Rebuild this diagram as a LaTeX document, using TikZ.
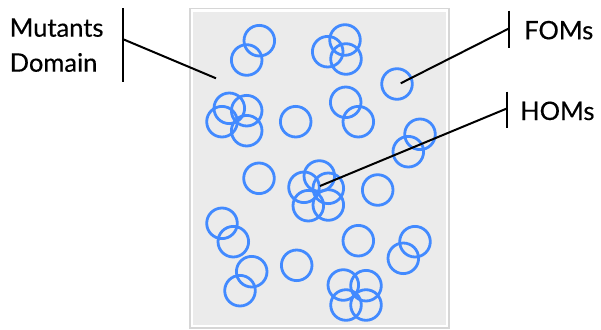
\documentclass[tikz,border=0pt]{standalone}
\usepackage{fontspec}
\setmainfont{Lato}
\newfontfamily\lblfont{Lato}[FakeBold=0.35]
\definecolor{mutblue}{RGB}{66,138,255}
\definecolor{panelfill}{RGB}{235,235,235}
\definecolor{panelrim}{RGB}{214,214,214}
\tikzset{
  mut/.style={circle, draw=mutblue, line width=2.8pt, minimum size=30.6pt, inner sep=0pt},
  lbl/.style={anchor=base west, inner sep=0pt, font=\lblfont\fontsize{25.5}{30}\selectfont},
  lead/.style={line width=2pt, black},
}
\begin{document}
\begin{tikzpicture}[x=1pt,y=-1pt]
\useasboundingbox (0,0) rectangle (601,329);
% panel
\fill[panelrim] (189,8) rectangle (449.5,328.5);
\fill[white] (190.5,9.5) rectangle (448,327);
\fill[panelfill] (193,12) rectangle (446,325);
% circles
\node[mut] (c1) at (259.3,40.7) {};
\node[mut] (c2) at (246.7,60) {};
\node[mut] (c3) at (327.7,51.7) {};
\node[mut] (c4) at (345,40) {};
\node[mut] (c5) at (346,59) {};
\node[mut] (c6) at (397,84) {};
\node[mut] (c7) at (229.3,108.3) {};
\node[mut] (c8) at (246.7,110.7) {};
\node[mut] (c9) at (222,121.7) {};
\node[mut] (c10) at (246.7,130.7) {};
\node[mut] (c11) at (295.7,121.7) {};
\node[mut] (c12) at (345.7,102.3) {};
\node[mut] (c13) at (358.3,121.7) {};
\node[mut] (c14) at (420,134.3) {};
\node[mut] (c15) at (408.3,151.7) {};
\node[mut] (c16) at (259,178.3) {};
\node[mut] (c17) at (319.3,176) {};
\node[mut] (c18) at (304,187.3) {};
\node[mut] (c19) at (328.3,188.3) {};
\node[mut] (c20) at (308.3,205.7) {};
\node[mut] (c21) at (328.3,205) {};
\node[mut] (c22) at (377.7,190) {};
\node[mut] (c23) at (222,223.3) {};
\node[mut] (c24) at (233.3,241.7) {};
\node[mut] (c25) at (251.7,271.7) {};
\node[mut] (c26) at (240,290.7) {};
\node[mut] (c27) at (296.7,265.3) {};
\node[mut] (c28) at (358.3,240.7) {};
\node[mut] (c29) at (415,241.7) {};
\node[mut] (c30) at (403.3,258.3) {};
\node[mut] (c31) at (343.3,285) {};
\node[mut] (c32) at (366,285.7) {};
\node[mut] (c33) at (346,305) {};
\node[mut] (c34) at (366,305) {};
% labels
\node[lbl] (mutants) at (9.5,36.7) {Mutants};
\node[lbl] (domain) at (9.5,71.7) {Domain};
\node[lbl] (foms) at (524,39.3) {FOMs};
\node[lbl] (homs) at (520,120) {HOMs};
% bars and leaders
\coordinate (mtop) at (123.3,8.3);
\coordinate (mbot) at (123.3,81.7);
\coordinate (mmid) at (123.3,39.3);
\coordinate (mend) at (216,78.3);
\coordinate (ftop) at (509.3,10.7);
\coordinate (fbot) at (509.3,48.3);
\coordinate (fmid) at (509.3,28.3);
\coordinate (fend) at (400.7,83.3);
\coordinate (htop) at (507.3,91.7);
\coordinate (hbot) at (507.3,128.3);
\coordinate (hmid) at (507.3,108.3);
\coordinate (hend) at (320,186);
\draw[lead] (mtop) -- (mbot);
\draw[lead] (mmid) -- (mend);
\draw[lead] (ftop) -- (fbot);
\draw[lead] (fmid) -- (fend);
\draw[lead] (htop) -- (hbot);
\draw[lead] (hmid) -- (hend);
\end{tikzpicture}
\end{document}
